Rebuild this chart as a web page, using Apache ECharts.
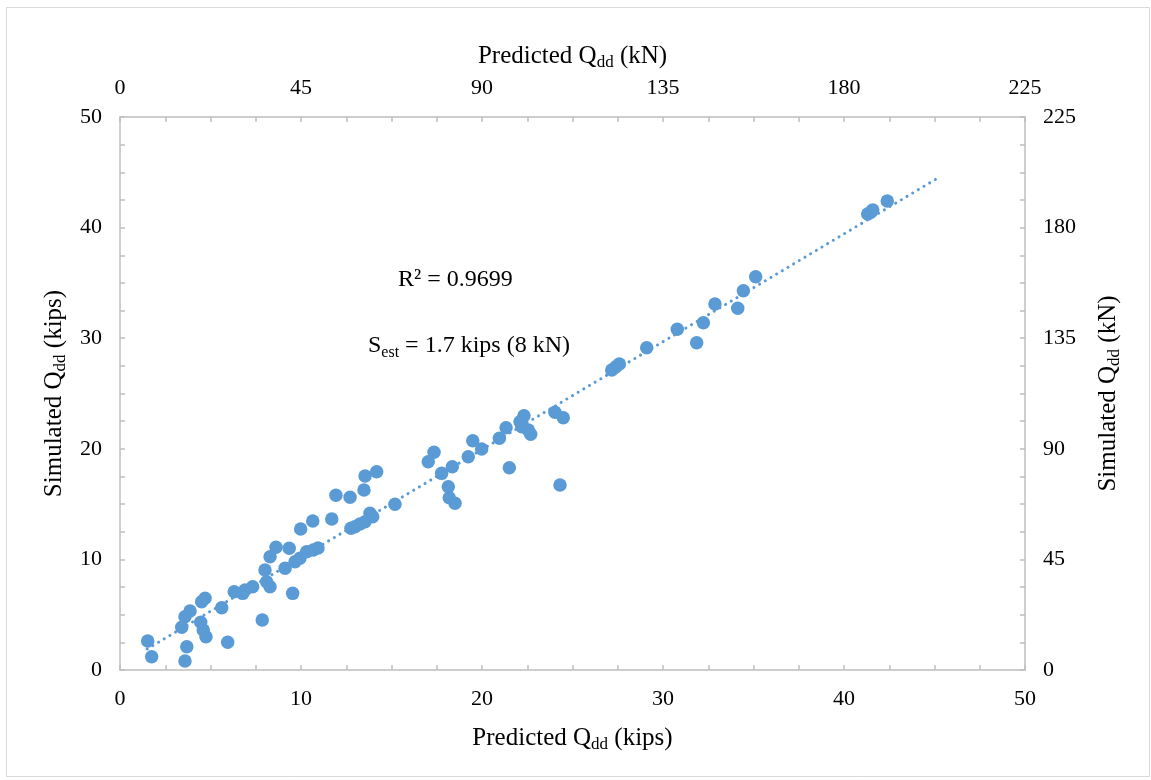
<!DOCTYPE html>
<html>
<head>
<meta charset="utf-8">
<script src="https://cdn.jsdelivr.net/npm/echarts@6/dist/echarts.min.js"></script>
<style>
html,body{margin:0;padding:0;background:#fff;}
#chart{width:1151px;height:780px;}
</style>
</head>
<body>
<div id="chart"></div>
<script>
// Predicted Qdd (kips) vs Simulated Qdd (kips)
const predictedKips = [1.53,1.75,3.41,3.59,3.87,3.69,3.59,4.46,4.60,4.75,4.51,4.70,5.62,5.95,6.31,6.78,6.91,7.33,7.86,8.01,8.10,8.29,8.29,8.62,9.12,9.35,9.54,9.67,9.94,10.31,10.68,10.94,
  9.98,10.65,11.70,11.93,12.71,13.48,13.54,14.18,12.76,12.98,13.26,13.54,13.81,13.96,15.19,17.03,17.35,17.77,18.36,18.14,18.19,18.51,
  19.24,19.49,19.98,20.96,21.33,21.51,22.10,22.32,22.20,22.56,22.69,24.03,24.49,24.31,
  27.17,27.40,27.59,29.10,30.79,31.86,32.23,32.87,34.13,34.44,35.12,41.31,41.48,41.59,42.39];
const simulatedKips = [2.62,1.20,3.86,4.82,5.33,2.11,0.81,4.31,3.62,3.01,6.18,6.48,5.63,2.50,7.08,6.93,7.23,7.53,4.52,9.04,7.98,7.53,10.24,11.09,9.20,11.00,6.93,9.79,10.10,10.70,10.85,11.03,
  12.75,13.47,13.65,15.80,15.62,16.27,17.54,17.93,12.81,12.96,13.20,13.41,14.17,13.86,14.98,18.83,19.68,17.78,18.38,16.57,15.58,15.07,
  19.29,20.73,19.98,20.95,21.91,18.29,22.45,22.99,22.00,21.70,21.31,23.30,22.81,16.73,
  27.12,27.42,27.67,29.14,30.80,29.59,31.40,33.09,32.70,34.29,35.56,41.23,41.38,41.59,42.41];
// Linear trendline end points (kips)
const trendX = [1.5, 45.2];
const trendY = [1.9, 44.5];
// Axis ranges / tick labels
const kipsTicks = [0,10,20,30,40,50];
const kNTicks = [0,45,90,135,180,225];
const r2Text = 'R² = 0.9699';

const points = predictedKips.map((x,i)=>[x, simulatedKips[i]]);
const trend = trendX.map((x,i)=>[x, trendY[i]]);

const FONT = '"Liberation Serif", "Times New Roman", serif';
const axisLineStyle = {color:'#BFBFBF', width:1.5};
const labelStyle = {color:'#000', fontFamily:FONT, fontSize:22};
const nameRich = {
  base:{fontFamily:FONT, fontSize:25, color:'#000', lineHeight:30},
  sub:{fontFamily:FONT, fontSize:17, color:'#000', lineHeight:30, verticalAlign:'bottom'}
};
function axisCommon(){
  return {
    axisLine:{show:true, onZero:false, lineStyle:axisLineStyle},
    axisTick:{show:true, inside:true, length:5, lineStyle:axisLineStyle},
    minorTick:{show:true, splitNumber:4, length:5, lineStyle:axisLineStyle},
    splitLine:{show:false},
    axisLabel:Object.assign({margin:18}, labelStyle),
    nameLocation:'middle',
    nameTextStyle:{rich:nameRich}
  };
}

const chart = echarts.init(document.getElementById('chart'), null, {renderer:'canvas'});
const option = {
  backgroundColor:'#fff',
  animation:false,
  grid:{left:120, right:126, top:117, bottom:110, containLabel:false},
  xAxis:[
    Object.assign(axisCommon(), {type:'value', position:'bottom', min:kipsTicks[0], max:kipsTicks[kipsTicks.length-1], interval:10,
      name:'{base|Predicted Q}{sub|dd}{base| (kips)}', nameGap:53}),
    Object.assign(axisCommon(), {type:'value', position:'top', min:kNTicks[0], max:kNTicks[kNTicks.length-1], interval:45,
      name:'{base|Predicted Q}{sub|dd}{base| (kN)}', nameGap:46})
  ],
  yAxis:[
    Object.assign(axisCommon(), {type:'value', position:'left', min:kipsTicks[0], max:kipsTicks[kipsTicks.length-1], interval:10,
      name:'{base|Simulated Q}{sub|dd}{base| (kips)}', nameGap:43, nameRotate:90}),
    Object.assign(axisCommon(), {type:'value', position:'right', min:kNTicks[0], max:kNTicks[kNTicks.length-1], interval:45,
      name:'{base|Simulated Q}{sub|dd}{base| (kN)}', nameGap:68, nameRotate:90})
  ],
  series:[
    {
      type:'line', xAxisIndex:0, yAxisIndex:0, data:trend, showSymbol:false, symbol:'none',
      lineStyle:{color:'#5B9BD5', width:3, type:[0.1,6.5], cap:'round'}, z:1, silent:true
    },
    {
      type:'scatter', xAxisIndex:0, yAxisIndex:0, data:points, symbol:'circle', symbolSize:13.5,
      itemStyle:{color:'#5B9BD5', opacity:1}, z:2
    }
  ],
  graphic:[
    {type:'rect', left:4, top:5, shape:{width:1143, height:769}, style:{fill:'none', stroke:'#D9D9D9', lineWidth:1}, z:-1, silent:true},
    {type:'text', left:398, top:268, style:{text:r2Text, font:'24px "Liberation Serif", serif', fill:'#000'}},
    {type:'text', left:368, top:334, style:{
      text:'{a|S}{b|est}{a| = 1.7 kips (8 kN)}',
      rich:{a:{fontFamily:FONT, fontSize:24, fill:'#000', color:'#000', lineHeight:30},
            b:{fontFamily:FONT, fontSize:16, fill:'#000', color:'#000', lineHeight:30, verticalAlign:'bottom'}}
    }}
  ]
};
chart.setOption(option);
</script>
</body>
</html>
